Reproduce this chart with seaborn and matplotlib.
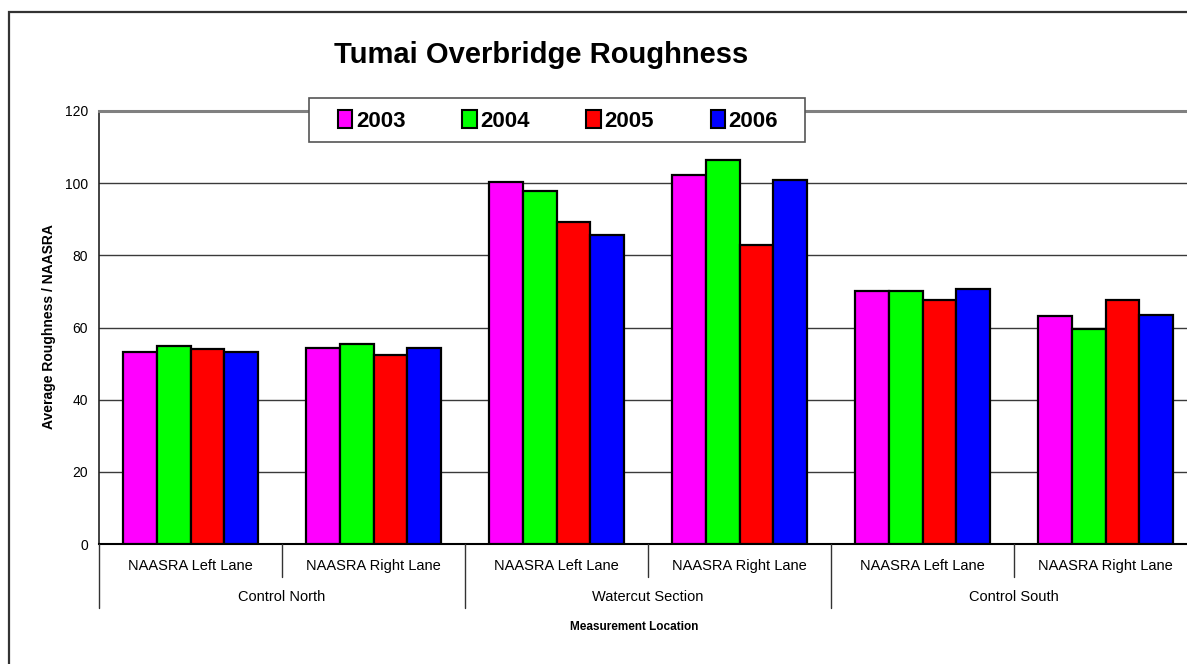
import matplotlib
matplotlib.use("Agg")
import matplotlib.pyplot as plt
import matplotlib.transforms as mtransforms
from matplotlib.patches import Rectangle
import seaborn as sns
import pandas as pd

# ---- data ----
sections = ["Control North", "Watercut Section", "Control South"]
lanes = ["NAASRA Left Lane", "NAASRA Right Lane"]
years = ["2003", "2004", "2005", "2006"]
v2003 = [53.1, 54.2, 100.4, 102.4, 70.1, 63.3]
v2004 = [54.9, 55.5, 97.9, 106.3, 70.1, 59.7]
v2005 = [54.0, 52.5, 89.1, 83.0, 67.5, 67.7]
v2006 = [53.3, 54.3, 85.5, 100.8, 70.8, 63.4]
colors = ["#FF00FF", "#00FF00", "#FF0000", "#0000FF"]
yticks = [0, 20, 40, 60, 80, 100, 120]

cats = [f"{s}|{l}" for s in sections for l in lanes]
rows = []
for yr, vals in zip(years, [v2003, v2004, v2005, v2006]):
    for c, v in zip(cats, vals):
        rows.append({"cat": c, "year": yr, "value": v})
df = pd.DataFrame(rows)

sns.set_style("white")
plt.rcParams["font.family"] = ["Liberation Sans", "DejaVu Sans"]
plt.rcParams["text.color"] = "black"
plt.rcParams["ytick.color"] = "#222222"
plt.rcParams["ytick.labelcolor"] = "black"

W, H = 1187, 664
fig = plt.figure(figsize=(W / 100, H / 100), dpi=100)
fig.patch.set_facecolor("white")

# axes placement (plot area runs past right edge like the reference)
left_px, right_px, top_px, bot_px = 99, 1197, 111, 544
ax = fig.add_axes([left_px / W, 1 - bot_px / H, (right_px - left_px) / W, (bot_px - top_px) / H])

sns.barplot(data=df, x="cat", y="value", hue="year", order=cats, hue_order=years,
            palette=colors, width=0.734, gap=0, edgecolor="black", linewidth=1.6,
            saturation=1, ax=ax, legend=True, zorder=3)

ax.set_xlim(-0.5, len(cats) - 0.5)
ax.set_ylim(0, 120)
ax.set_yticks(yticks)
ax.set_yticklabels([str(t) for t in yticks], fontsize=10)
ax.tick_params(axis="y", direction="out", length=5, width=1, pad=3)
ax.set_xticks([])
ax.set_xlabel("")
ax.set_ylabel("")
ax.yaxis.grid(True, color="#3a3a3a", linewidth=1.0, zorder=0)
ax.set_axisbelow(True)

ax.spines["top"].set_color("#808080")
ax.spines["top"].set_linewidth(2.2)
ax.spines["left"].set_color("#222222")
ax.spines["left"].set_linewidth(1.2)
ax.spines["bottom"].set_color("black")
ax.spines["bottom"].set_linewidth(1.5)
ax.spines["right"].set_visible(False)

# hierarchical x labels
axh = bot_px - top_px
trans = mtransforms.blended_transform_factory(ax.transData, ax.transAxes)
for i, c in enumerate(cats):
    lane = c.split("|")[1]
    ax.text(i, -22 / axh, lane, transform=trans, ha="center", va="center",
            fontsize=10.5, color="black", clip_on=False)
for j, s in enumerate(sections):
    ax.text(2 * j + 0.5, -53 / axh, s, transform=trans, ha="center", va="center",
            fontsize=10.5, color="black", clip_on=False)
for k in range(len(cats) + 1):
    xb = k - 0.5
    depth = -64 / axh if k % 2 == 0 else -33 / axh
    ax.plot([xb, xb], [0, depth], transform=trans, color="#333333", lw=1.0,
            clip_on=False, zorder=5)

fig.text(634 / W, 1 - 627 / H, "Measurement Location", ha="center", va="center",
         fontsize=8.5, fontweight="bold")
fig.text(49 / W, 1 - 327 / H, "Average Roughness / NAASRA", ha="center", va="center",
         rotation=90, fontsize=10, fontweight="bold")
fig.text(541 / W, 1 - 55 / H, "Tumai Overbridge Roughness", ha="center", va="center",
         fontsize=21, fontweight="bold")

# legend frame drawn separately, entries spread inside it
fig.add_artist(Rectangle((309 / W, 1 - 142 / H), 496 / W, 44 / H, transform=fig.transFigure,
                         facecolor="white", edgecolor="#555555", linewidth=1.2, zorder=3))
handles, labels = ax.get_legend_handles_labels()
ax.get_legend().remove()
leg = fig.legend(handles, labels, loc="center left", ncol=4, mode="expand",
                 bbox_to_anchor=(338 / W, 1 - 121 / H, 440 / W, 0),
                 bbox_transform=fig.transFigure,
                 prop={"size": 16, "weight": "bold"}, frameon=False,
                 handlelength=0.65, handleheight=0.85,
                 handletextpad=0.15, borderaxespad=0, borderpad=0)
leg.set_zorder(6)
for p in leg.get_patches():
    p.set_edgecolor("black")
    p.set_linewidth(1.5)

# outer chart border (top and left only visible, as in the cropped reference)
fig.add_artist(Rectangle((9 / W, -0.2), 1.3, 1.2 - 12 / H, transform=fig.transFigure,
                         fill=False, edgecolor="#333333", linewidth=1.6))

fig.savefig("out.png", dpi=100, facecolor="white")
